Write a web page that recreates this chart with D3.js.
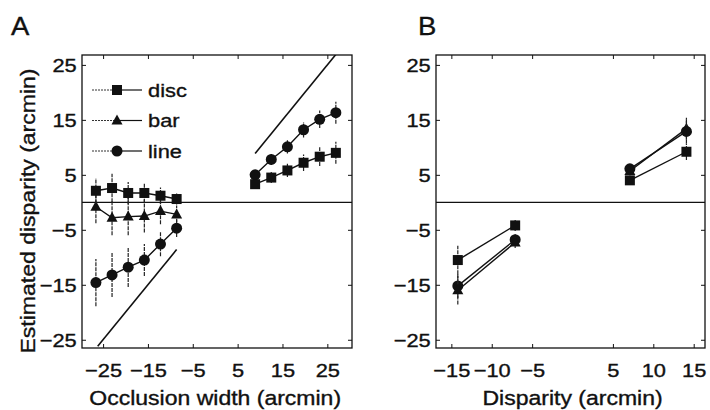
<!DOCTYPE html>
<html><head><meta charset="utf-8">
<script src="https://cdn.jsdelivr.net/npm/d3@7"></script>
<style>body{margin:0;background:#fff}svg{display:block}text{font-family:"Liberation Sans",Arial,sans-serif;fill:#111;stroke:#111;stroke-width:0.35px}</style>
</head><body><svg id="c" width="710" height="410"></svg>
<script>
// ---- Panel A data ----
const aXneg = [-26.6, -23.0, -19.4, -15.8, -12.2, -8.6];
const aXpos = [8.9, 12.5, 16.1, 19.7, 23.3, 26.9];
const discNeg = [2.1, 2.6, 1.7, 1.7, 1.2, 0.6];
const discNegErr = [2.3, 2.6, 2.0, 1.8, 1.5, 1.0];
const barNeg = [-0.8, -2.8, -2.6, -2.5, -1.6, -2.2];
const barNegErr = [3.0, 3.2, 3.4, 3.0, 2.4, 1.6];
const lineNeg = [-14.6, -13.2, -11.8, -10.5, -7.6, -4.7];
const lineNegErr = [4.3, 4.0, 3.6, 2.9, 2.2, 1.6];
const discPos = [3.3, 4.5, 5.8, 7.2, 8.3, 9.0];
const discPosErr = [0.8, 1.0, 1.2, 1.5, 1.7, 2.0];
const linePos = [5.0, 7.8, 10.1, 13.2, 15.1, 16.3];
const linePosErr = [0.8, 1.0, 1.2, 1.4, 1.6, 2.0];
const veridNeg = [-26.2, -8.6];
const veridPos = [8.9, 28];
const aXTicks = [-25, -15, -5, 5, 15, 25];
const yTicks = [25, 15, 5, -5, -15, -25];
const legendLabels = ["disc", "bar", "line"];
// ---- Panel B data ----
const bX = [-14.2, -7.1, 7.1, 14.1];
const bDisc = [-10.5, -4.2, 4.0, 9.2];
const bDiscErr = [2.6, 1.0, 0.8, 1.5];
const bBar = [-16.0, -7.3, 5.7, 13.4];
const bBarErr = [2.6, 1.0, 0.8, 2.0];
const bLine = [-15.2, -6.8, 6.1, 12.9];
const bLineErr = [2.2, 1.0, 0.8, 2.2];
const bXTicks = [-15, -10, -5, 5, 10, 15];

const svg = d3.select("#c");
const pTop = 55, pBottom = 348;
const SX = "scale(1.18,1)";
const y = d3.scaleLinear().domain([-26.5, 26.8]).range([pBottom, pTop]);
const xA = d3.scaleLinear().domain([-29.7, 30.5]).range([82, 352]);
const xB = d3.scaleLinear().domain([-16.9, 16.4]).range([436, 705]);
const fmt = d => d < 0 ? "\u2212" + Math.abs(d) : d;

function frame(x, xt) {
  const g = svg.append("g");
  const [l, r] = x.range();
  g.append("rect").attr("x", l).attr("y", pTop).attr("width", r - l).attr("height", pBottom - pTop)
    .attr("fill", "none").attr("stroke", "#111").attr("stroke-width", 1.3);
  g.append("line").attr("x1", l).attr("x2", r).attr("y1", y(0)).attr("y2", y(0)).attr("stroke", "#111").attr("stroke-width", 1.3);
  const gx = g.append("g").attr("transform", `translate(0,${pBottom})`).call(d3.axisBottom(x).tickValues(xt).tickSize(-4).tickFormat(fmt));
  gx.select(".domain").remove();
  gx.selectAll("text").attr("dy", 0).attr("y", 29).attr("transform", SX).style("font-size", "18.5px");
  const gxt = g.append("g").attr("transform", `translate(0,${pTop})`).call(d3.axisTop(x).tickValues(xt).tickSize(-4).tickFormat(""));
  gxt.select(".domain").remove();
  const gy = g.append("g").attr("transform", `translate(${l},0)`).call(d3.axisLeft(y).tickValues(yTicks).tickSize(-4).tickFormat(fmt));
  gy.select(".domain").remove();
  gy.selectAll("text").attr("x", -4.5).attr("dy", "0.36em").attr("transform", SX).style("font-size", "18.5px");
  const gyr = g.append("g").attr("transform", `translate(${r},0)`).call(d3.axisRight(y).tickValues(yTicks).tickSize(-4).tickFormat(""));
  gyr.select(".domain").remove();
  g.selectAll(".tick line").attr("stroke", "#111");
  g.selectAll("text").attr("fill", "#111").attr("stroke", "#111").attr("stroke-width", 0.35);
}
frame(xA, aXTicks);
frame(xB, bXTicks);

function marker(g, type, cx, cy) {
  if (type === "disc") g.append("rect").attr("x", cx - 5).attr("y", cy - 5).attr("width", 10).attr("height", 10).attr("fill", "#111");
  else if (type === "bar") g.append("path").attr("d", `M${cx},${cy - 6}L${cx + 5.5},${cy + 4}L${cx - 5.5},${cy + 4}Z`).attr("fill", "#111");
  else g.append("circle").attr("cx", cx).attr("cy", cy).attr("r", 5.5).attr("fill", "#111");
}
function series(x, xs, ys, es, type) {
  const g = svg.append("g");
  xs.forEach((xv, i) => {
    g.append("line").attr("x1", x(xv)).attr("x2", x(xv)).attr("y1", y(ys[i] - es[i])).attr("y2", y(ys[i] + es[i]))
      .attr("stroke", "#222").attr("stroke-width", 1.2).attr("stroke-dasharray", "4,1");
  });
  const line = d3.line().x((d, i) => x(xs[i])).y(d => y(d));
  g.append("path").attr("d", line(ys)).attr("fill", "none").attr("stroke", "#111").attr("stroke-width", 1.4);
  xs.forEach((xv, i) => marker(g, type, x(xv), y(ys[i])));
}
svg.append("clipPath").attr("id", "clipA").append("rect").attr("x", 82).attr("y", pTop).attr("width", 270).attr("height", pBottom - pTop);
[veridNeg, veridPos].forEach(v => {
  svg.append("line").attr("clip-path", "url(#clipA)")
    .attr("x1", xA(v[0])).attr("y1", y(v[0])).attr("x2", xA(v[1])).attr("y2", y(v[1]))
    .attr("stroke", "#111").attr("stroke-width", 1.6);
});
series(xA, aXneg, lineNeg, lineNegErr, "line");
series(xA, aXneg, barNeg, barNegErr, "bar");
series(xA, aXneg, discNeg, discNegErr, "disc");
series(xA, aXpos, linePos, linePosErr, "line");
series(xA, aXpos, discPos, discPosErr, "disc");

series(xB, bX.slice(0, 2), bLine.slice(0, 2), bLineErr.slice(0, 2), "line");
series(xB, bX.slice(0, 2), bBar.slice(0, 2), bBarErr.slice(0, 2), "bar");
series(xB, bX.slice(0, 2), bDisc.slice(0, 2), bDiscErr.slice(0, 2), "disc");
series(xB, bX.slice(2), bBar.slice(2), bBarErr.slice(2), "bar");
series(xB, bX.slice(2), bLine.slice(2), bLineErr.slice(2), "line");
series(xB, bX.slice(2), bDisc.slice(2), bDiscErr.slice(2), "disc");

const types = ["disc", "bar", "line"];
const lg = svg.append("g");
legendLabels.forEach((t, i) => {
  const yy = 90 + i * 30.5;
  lg.append("line").attr("x1", 92).attr("x2", 117).attr("y1", yy).attr("y2", yy).attr("stroke", "#333").attr("stroke-width", 1).attr("stroke-dasharray", "2,1");
  lg.append("line").attr("x1", 117).attr("x2", 142).attr("y1", yy).attr("y2", yy).attr("stroke", "#111").attr("stroke-width", 1.2);
  marker(lg, types[i], 117, yy);
  lg.append("text").attr("transform", `translate(148,${yy + 6.5}) ${SX}`).style("font-size", "18.5px").text(t);
});

svg.append("text").attr("transform", `translate(${xA(0)},405) ${SX}`).attr("text-anchor", "middle").style("font-size", "19.5px").text("Occlusion width (arcmin)");
svg.append("text").attr("transform", `translate(${xB(0)},405) ${SX}`).attr("text-anchor", "middle").style("font-size", "19.5px").text("Disparity (arcmin)");
svg.append("text").attr("transform", `translate(35,211) rotate(-90) ${SX}`).attr("text-anchor", "middle").style("font-size", "19.5px").text("Estimated disparity (arcmin)");
svg.append("text").attr("transform", "translate(11,35) scale(1.1,1)").style("font-size", "25px").text("A");
svg.append("text").attr("transform", "translate(418,35) scale(1.1,1)").style("font-size", "25px").text("B");
</script></body></html>
